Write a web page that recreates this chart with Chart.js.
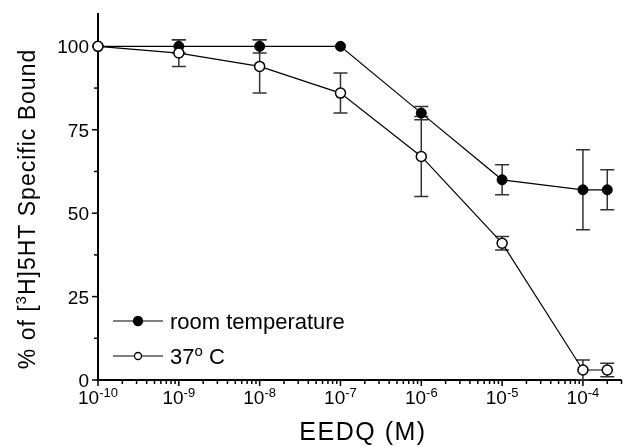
<!DOCTYPE html>
<html>
<head>
<meta charset="utf-8">
<script src="https://cdn.jsdelivr.net/npm/chart.js@4.4.1/dist/chart.umd.min.js"></script>
<style>
  html, body { margin: 0; padding: 0; background: #fff; }
  #wrap { position: relative; width: 628px; height: 447px; }
</style>
</head>
<body>
<div id="wrap"><canvas id="myChart"></canvas></div>
<script>
const concentrations = [1e-10, 1e-9, 1e-8, 1e-7, 1e-6, 1e-5, 1e-4, 2e-4];
const roomTemp = [100, 100, 100, 100, 80, 60, 57, 57];
const roomTempErr = [0, 2, 2, 0, 2, 4.5, 12, 6];
const warm = [100, 98, 94, 86, 67, 41, 3, 3];
const warmErr = [0, 4, 8, 6, 12, 2, 3, 2];
const yTicks = [0, 25, 50, 75, 100];
const xTickExponents = [-10, -9, -8, -7, -6, -5, -4];

const fontFamily = '"Liberation Sans", Arial, sans-serif';
const ink = '#000';

function toPoints(ys) {
  return concentrations.map((x, i) => ({ x, y: ys[i] }));
}

// text made of runs, each with its own size and vertical shift (for superscripts)
function drawRuns(ctx, runs, x, y, align) {
  let total = 0;
  runs.forEach(run => {
    ctx.font = `${run.size}px ${fontFamily}`;
    run.width = ctx.measureText(run.text).width;
    total += run.width;
  });
  let cx = align === 'center' ? x - total / 2 : align === 'right' ? x - total : x;
  ctx.textAlign = 'left';
  runs.forEach(run => {
    ctx.font = `${run.size}px ${fontFamily}`;
    ctx.fillText(run.text, cx, y - (run.rise || 0));
    cx += run.width;
  });
}

function drawErrorBars(ctx, xScale, yScale, ys, errs) {
  ctx.strokeStyle = '#333';
  ctx.lineWidth = 1.5;
  concentrations.forEach((c, i) => {
    if (!errs[i]) return;
    const px = xScale.getPixelForValue(c);
    const top = yScale.getPixelForValue(ys[i] + errs[i]);
    const bottom = yScale.getPixelForValue(Math.max(ys[i] - errs[i], 0));
    ctx.beginPath();
    ctx.moveTo(px, top);
    ctx.lineTo(px, bottom);
    ctx.moveTo(px - 7, top);
    ctx.lineTo(px + 7, top);
    ctx.moveTo(px - 7, bottom);
    ctx.lineTo(px + 7, bottom);
    ctx.stroke();
  });
}

const paperAxes = {
  id: 'paperAxes',
  beforeDatasetsDraw(chart) {
    const { ctx, chartArea, scales: { x, y } } = chart;
    ctx.save();
    ctx.strokeStyle = ink;

    // axis lines
    ctx.lineWidth = 2;
    ctx.beginPath();
    ctx.moveTo(chartArea.left, chartArea.top);
    ctx.lineTo(chartArea.left, chartArea.bottom);
    ctx.lineTo(chartArea.right, chartArea.bottom);
    ctx.stroke();

    // y ticks, major every 25 and minor halfway
    ctx.lineWidth = 1.5;
    for (let v = 0; v <= y.max; v += 12.5) {
      const py = y.getPixelForValue(v);
      const len = v % 25 === 0 ? 6 : 4;
      ctx.beginPath();
      ctx.moveTo(chartArea.left - len, py);
      ctx.lineTo(chartArea.left, py);
      ctx.stroke();
    }

    // x ticks, decades plus 2..9 minors
    for (let e = -10; e <= -4; e++) {
      for (let m = 1; m <= 9; m++) {
        const v = m * Math.pow(10, e);
        if (v > x.max * 1.0001) break;
        const px = x.getPixelForValue(v);
        const len = m === 1 ? 6 : 4;
        ctx.beginPath();
        ctx.moveTo(px, chartArea.bottom);
        ctx.lineTo(px, chartArea.bottom + len);
        ctx.stroke();
      }
    }

    drawErrorBars(ctx, x, y, roomTemp, roomTempErr);
    drawErrorBars(ctx, x, y, warm, warmErr);
    ctx.restore();
  },
  afterDraw(chart) {
    const { ctx, chartArea, scales: { x, y } } = chart;
    ctx.save();
    ctx.fillStyle = ink;
    ctx.textBaseline = 'alphabetic';

    yTicks.forEach(v => {
      drawRuns(ctx, [{ text: String(v), size: 19 }], chartArea.left - 9, y.getPixelForValue(v) + 7, 'right');
    });

    xTickExponents.forEach(e => {
      drawRuns(ctx, [
        { text: '10', size: 19 },
        { text: String(e), size: 13, rise: 7 },
      ], x.getPixelForValue(Math.pow(10, e)), 404, 'center');
    });

    // axis titles
    ctx.letterSpacing = '1.5px';
    drawRuns(ctx, [{ text: 'EEDQ (M)', size: 25 }], 363, 440, 'center');
    ctx.letterSpacing = '1px';
    ctx.save();
    ctx.translate(35, 209);
    ctx.rotate(-Math.PI / 2);
    drawRuns(ctx, [
      { text: '% of [', size: 23 },
      { text: '3', size: 15, rise: 9 },
      { text: 'H]5HT Specific Bound', size: 23 },
    ], 0, 0, 'center');
    ctx.restore();
    ctx.letterSpacing = '0px';

    // legend
    const legendRows = [
      { y: 321, filled: true, r: 4.5, runs: [{ text: 'room temperature', size: 22 }] },
      { y: 356, filled: false, r: 3.5, runs: [
        { text: '37', size: 22 },
        { text: 'o', size: 15, rise: 8 },
        { text: ' C', size: 22 },
      ] },
    ];
    legendRows.forEach(row => {
      ctx.strokeStyle = ink;
      ctx.lineWidth = 1.2;
      ctx.beginPath();
      ctx.moveTo(113, row.y);
      ctx.lineTo(163, row.y);
      ctx.stroke();
      ctx.beginPath();
      ctx.arc(138, row.y, row.r, 0, Math.PI * 2);
      ctx.fillStyle = row.filled ? ink : '#fff';
      ctx.fill();
      ctx.lineWidth = 1.3;
      ctx.stroke();
      ctx.fillStyle = ink;
      drawRuns(ctx, row.runs, 170, row.y + 8, 'left');
    });
    ctx.restore();
  },
};

const chart = new Chart(document.querySelector('#myChart'), {
  type: 'line',
  data: {
    datasets: [
      {
        label: '37o C',
        data: toPoints(warm),
        borderColor: ink,
        borderWidth: 1.2,
        pointRadius: 5,
        pointBorderWidth: 1.5,
        pointBackgroundColor: '#fff',
        pointBorderColor: ink,
        clip: false,
      },
      {
        label: 'room temperature',
        data: toPoints(roomTemp),
        borderColor: ink,
        borderWidth: 1.2,
        pointRadius: 5,
        pointBorderWidth: 1,
        pointBackgroundColor: ink,
        pointBorderColor: ink,
        clip: false,
      },
    ],
  },
  options: {
    responsive: true,
    maintainAspectRatio: false,
    animation: false,
    layout: {
      padding: { left: 98, top: 13, right: 1, bottom: 67 },
    },
    scales: {
      x: {
        type: 'logarithmic',
        min: 1e-10,
        max: 3e-4,
        display: false,
      },
      y: {
        type: 'linear',
        min: 0,
        max: 110,
        display: false,
      },
    },
    plugins: {
      legend: { display: false },
      tooltip: { enabled: false },
    },
  },
  plugins: [paperAxes],
});
</script>
</body>
</html>
